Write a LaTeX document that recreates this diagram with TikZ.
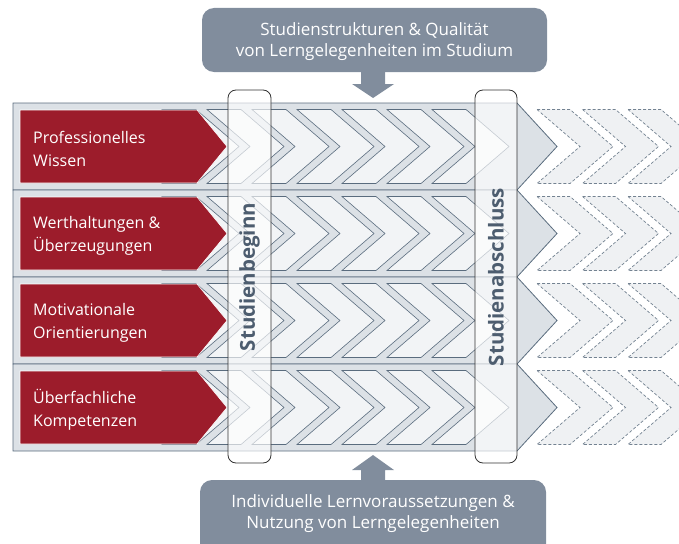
\documentclass[tikz,border=0pt]{standalone}
\usepackage{fontspec}
\setmainfont{Open Sans}
\usetikzlibrary{calc}
\definecolor{redbox}{HTML}{9C1C2B}
\definecolor{bandfill}{HTML}{DCE1E6}
\definecolor{chevfill}{HTML}{F2F4F6}
\definecolor{slate}{HTML}{5A6C7E}
\definecolor{boxgray}{HTML}{818D9D}
\definecolor{vtext}{HTML}{4D5D6F}
\definecolor{dashfill}{HTML}{EFF1F3}
\tikzset{
  bandshape/.style={fill=bandfill, draw=slate, line width=0.8pt},
  chevshape/.style={fill=chevfill, draw=slate, line width=0.6pt, line join=miter},
  dashchev/.style={fill=dashfill, draw=slate!85, line width=0.7pt, dash pattern=on 3pt off 2pt},
  redshape/.style={fill=redbox, draw=white, line width=0.6pt},
  redtext/.style={text=white, align=left, anchor=west, inner sep=0pt, font=\fontsize{16}{23}\selectfont},
  infobox/.style={fill=boxgray, draw=none},
  infotext/.style={text=white, align=center, inner sep=0pt, font=\fontsize{17}{21}\selectfont},
  phasebox/.style={fill=white, fill opacity=0.65, draw=black!80, line width=0.8pt, rounded corners=8pt},
  phasetext/.style={text=vtext, rotate=90, inner sep=0pt, font=\fontsize{20.5}{24}\selectfont\bfseries}
}
\begin{document}
\begin{tikzpicture}[x=1pt, y=-1pt]
\useasboundingbox (0,0) rectangle (679,543);
\clip (0,0) rectangle (679,543);
% rows
\foreach \r in {0,1,2,3} {
  \pgfmathsetmacro{\T}{103+87*\r}
  \draw[bandshape] (13,\T) -- (517,\T) -- (557,\T+43.5) -- (517,\T+87) -- (13,\T+87) -- cycle;
}
\foreach \r in {0,1,2,3} {
  \pgfmathsetmacro{\T}{103+87*\r}
  \foreach \k in {0,...,6} {
    \pgfmathsetmacro{\X}{162+45*\k}
    \draw[chevshape] (\X,\T+6.5) -- (\X+34,\T+6.5) -- (\X+77,\T+43.5) -- (\X+34,\T+80.5) -- (\X,\T+80.5) -- (\X+43,\T+43.5) -- cycle;
  }
  \foreach \k in {0,1,2} {
    \pgfmathsetmacro{\X}{537+45.5*\k}
    \draw[dashchev] (\X,\T+6.5) -- (\X+33,\T+6.5) -- (\X+76,\T+43.5) -- (\X+33,\T+80.5) -- (\X,\T+80.5) -- (\X+43,\T+43.5) -- cycle;
  }
  \draw[redshape] (20,\T+7) -- (197,\T+7) -- (227,\T+43.5) -- (197,\T+80) -- (20,\T+80) -- cycle;
}
\node[redtext] (p1) at (33,148.5) {Professionelles\\Wissen};
\node[redtext] (p2) at (33,235.5) {Werthaltungen \&\\Überzeugungen};
\node[redtext] (p3) at (33,322.5) {Motivationale\\Orientierungen};
\node[redtext] (p4) at (33,409.5) {Überfachliche\\Kompetenzen};
% phase boxes
\draw[phasebox] (228,90) rectangle (271,463);
\draw[phasebox] (475,90) rectangle (517,463);
\node[phasetext] (sb) at (249.5,277) {Studienbeginn};
\node[phasetext] (sa) at (496,277) {Studienabschluss};
% top box
\fill[infobox, rounded corners=12pt] (202,8) rectangle (547,72);
\fill[infobox] (361,71) -- (385,71) -- (385,84) -- (394,84) -- (373,98) -- (352,84) -- (361,84) -- cycle;
\node[infotext] (top) at (374.5,42) {Studienstrukturen \& Qualität\\von Lerngelegenheiten im Studium};
% bottom box
\fill[infobox, rounded corners=12pt] (200,480) rectangle (546,556);
\fill[infobox] (361,481) -- (385,481) -- (385,470) -- (394,470) -- (373,455) -- (352,470) -- (361,470) -- cycle;
\node[infotext] (bot) at (373,513.5) {Individuelle Lernvoraussetzungen \&\\Nutzung von Lerngelegenheiten};
\end{tikzpicture}
\end{document}
